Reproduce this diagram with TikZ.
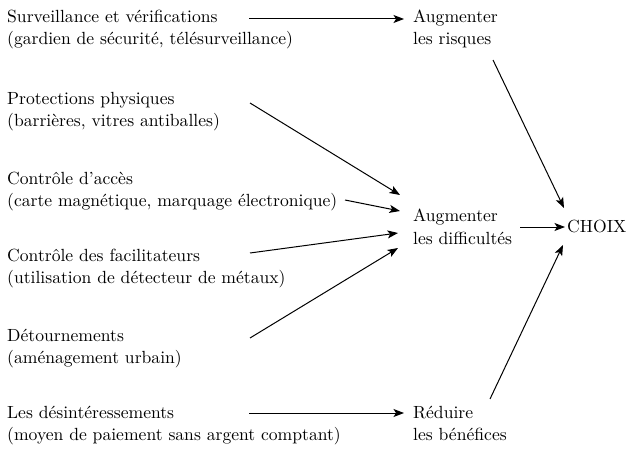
\documentclass[tikz,border=0pt]{standalone}
\usepackage{fontspec}
\setmainfont{lmroman10-regular}[Extension=.otf]
\usetikzlibrary{arrows.meta}
% two stacked lines, baseline on the first one
\newcommand\twolines[2]{\begin{tabular}[t]{@{}l@{}}#1\\#2\end{tabular}}
\begin{document}
\begin{tikzpicture}[x=1pt,y=-1pt,
  txt/.style={anchor=base west,inner sep=0pt,font=\rmfamily\fontsize{17.6}{22}\selectfont},
  link/.style={-{Stealth[length=10.5pt,width=8pt,inset=2.5pt]},line width=1pt}]
\useasboundingbox (0,0) rectangle (634,449);

% measures (left column)
\node[txt] (surv) at (7,23)  {\twolines{Surveillance et vérifications}{(gardien de sécurité, télésurveillance)}};
\node[txt] (prot) at (7,105) {\twolines{Protections physiques}{(barrières, vitres antiballes)}};
\node[txt] (acces) at (7,185) {\twolines{Contrôle d’accès}{(carte magnétique, marquage électronique)}};
\node[txt] (facil) at (7,261) {\twolines{Contrôle des facilitateurs}{(utilisation de détecteur de métaux)}};
\node[txt] (detour) at (7,341) {\twolines{Détournements}{(aménagement urbain)}};
\node[txt] (desint) at (7,418) {\twolines{Les désintéressements}{(moyen de paiement sans argent comptant)}};

% effects (middle column)
\node[txt] (risques) at (413,23)  {\twolines{Augmenter}{les risques}};
\node[txt] (diffic)  at (413,222) {\twolines{Augmenter}{les difficultés}};
\node[txt] (benef)   at (413,418) {\twolines{Réduire}{les bénéfices}};

% outcome
\node[txt] (choix) at (567,233) {CHOIX};

% connector end points
\coordinate (surv-out)   at (249,19);
\coordinate (prot-out)   at (250,103);
\coordinate (acces-out)  at (345,200);
\coordinate (facil-out)  at (250,253);
\coordinate (detour-out) at (250,338);
\coordinate (desint-out) at (249,413);
\coordinate (risques-in) at (404,19);
\coordinate (diffic-in1) at (400,195);
\coordinate (diffic-in2) at (400,211);
\coordinate (diffic-in3) at (398,233);
\coordinate (diffic-in4) at (398,248);
\coordinate (benef-in)   at (404,413);
\coordinate (risques-out) at (493,60);
\coordinate (diffic-out)  at (520,227);
\coordinate (benef-out)   at (490,399);
\coordinate (choix-in1) at (564,208);
\coordinate (choix-in2) at (565,227);
\coordinate (choix-in3) at (563,245);

\draw[link] (surv-out) -- (risques-in);
\draw[link] (prot-out) -- (diffic-in1);
\draw[link] (acces-out) -- (diffic-in2);
\draw[link] (facil-out) -- (diffic-in3);
\draw[link] (detour-out) -- (diffic-in4);
\draw[link] (desint-out) -- (benef-in);
\draw[link] (risques-out) -- (choix-in1);
\draw[link] (diffic-out) -- (choix-in2);
\draw[link] (benef-out) -- (choix-in3);
\end{tikzpicture}
\end{document}
